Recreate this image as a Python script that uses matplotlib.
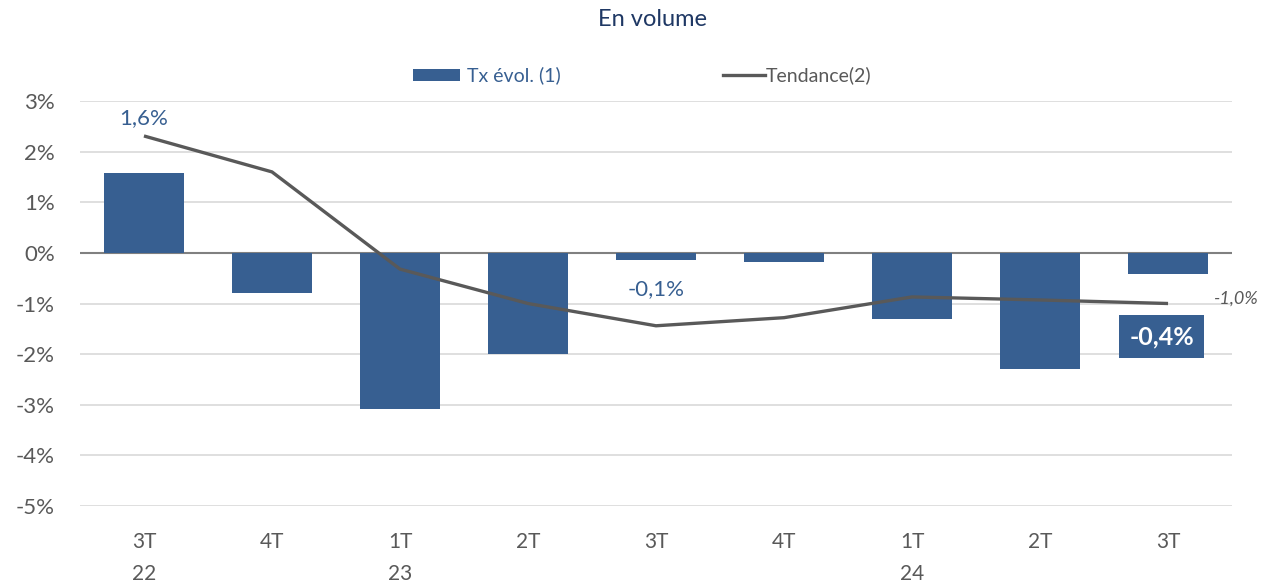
import matplotlib
matplotlib.use("Agg")
import matplotlib.pyplot as plt
from matplotlib.patches import Rectangle
from matplotlib.lines import Line2D

categories = ["3T\n22", "4T", "1T\n23", "2T", "3T", "4T", "1T\n24", "2T", "3T"]
tx_evol = [1.57, -0.79, -3.08, -2.0, -0.14, -0.18, -1.30, -2.29, -0.42]
tendance = [2.31, 1.60, -0.32, -1.0, -1.44, -1.28, -0.87, -0.93, -1.0]
yticks = [3, 2, 1, 0, -1, -2, -3, -4, -5]
legend_labels = ["Tx évol. (1)", "Tendance(2)"]

BLUE = "#375F91"
GRAY = "#595959"
plt.rcParams['font.family'] = ['Lato', 'DejaVu Sans']

W, H = 1263, 584
fig = plt.figure(figsize=(W / 100, H / 100), dpi=100)
ax = fig.add_axes([0.0633, 0.1336, 0.9122, 0.6934])
x = list(range(len(categories)))
ax.bar(x, tx_evol, width=0.625, color=BLUE, zorder=2)
ax.plot(x, tendance, color=GRAY, lw=2.4, zorder=3, solid_capstyle='butt')

ax.set_xlim(-0.5, len(categories) - 0.5)
ax.set_ylim(-5, 3)
ax.set_yticks(yticks)
ax.set_yticklabels([f"{v}%" for v in yticks], fontsize=16, color=GRAY)
ax.set_xticks(x)
ax.set_xticklabels(categories, fontsize=15, color=GRAY, linespacing=1.75, va='top')
ax.tick_params(axis='both', length=0)
ax.tick_params(axis='x', pad=19)
ax.tick_params(axis='y', pad=18)
for s in ax.spines.values():
    s.set_visible(False)
ax.grid(axis='y', color='#D9D9D9', lw=1.2, zorder=0)
ax.set_axisbelow(True)
ax.axhline(0, color='#808080', lw=1.5, zorder=1)

# data labels
ax.text(x[0], 2.67, "1,6%", ha='center', va='center', fontsize=16, color=BLUE)
ax.text(x[4], -0.71, "-0,1%", ha='center', va='center', fontsize=16, color=BLUE)
ax.text(x[8] - 0.05, -1.66, "-0,4%", ha='center', va='center', fontsize=18, color='white',
        fontweight='bold',
        bbox=dict(boxstyle='square,pad=0.4', fc=BLUE, ec='none'), zorder=5)
ax.text(x[8] + 0.36, -0.9, "-1,0%", ha='left', va='center', fontsize=13, color=GRAY,
        style='italic', clip_on=False)

fig.text(0.517, 1 - 20 / H, "En volume", ha='center', va='center', fontsize=17, color='#1F3864')

# legend drawn manually in figure pixel coordinates
ly = 1 - 75 / H
fig.patches.append(Rectangle((413 / W, 1 - 81 / H), 47 / W, 12 / H, transform=fig.transFigure,
                             fc=BLUE, ec='none'))
fig.text(467 / W, ly, legend_labels[0], ha='left', va='center', fontsize=14, color=BLUE)
fig.lines.append(Line2D([723 / W, 765 / W], [ly, ly], transform=fig.transFigure,
                        color=GRAY, lw=2.4))
fig.text(766 / W, ly, legend_labels[1], ha='left', va='center', fontsize=14, color=GRAY)

fig.savefig("out.png", dpi=100)
